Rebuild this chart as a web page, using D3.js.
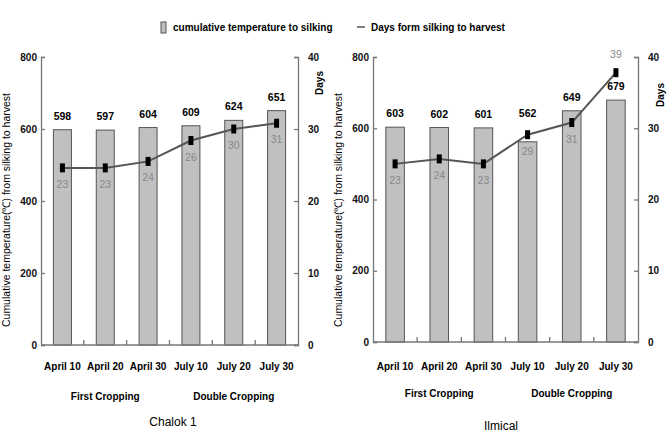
<!DOCTYPE html>
<html lang="en">
  <head>
    <meta charset="utf-8">
    <title>Cumulative temperature and days from silking to harvest</title>
    <script src="https://d3js.org/d3.v7.min.js"></script>
    <style type="text/css">
  body,html{
    margin: 0;
    padding: 0;
    background: #fff;
    font-family: "Liberation Sans", Arial, sans-serif;
  }
  .axis path, .axis line{
    stroke: #777;
    stroke-width: 1.3px;
  }
  .axis text{
    font-size: 10px;
    font-weight: bold;
    fill: #111;
  }
    </style>
  </head>
  <body>
    <script type="text/javascript">

      var w = 668;
      var h = 435;

      // data
      var dates = ["April 10", "April 20", "April 30", "July 10", "July 20", "July 30"];
      var croppings = ["First Cropping", "Double Cropping"];
      var cropOf = [0, 0, 0, 1, 1, 1];

      var chalokTemp = [598, 597, 604, 609, 624, 651];
      var chalokDays = [24.6, 24.6, 25.5, 28.4, 30.0, 30.8];
      var chalokDayLabels = ["23", "23", "24", "26", "30", "31"];

      var ilmicalTemp = [603, 602, 601, 562, 649, 679];
      var ilmicalDays = [25.0, 25.7, 25.0, 29.1, 30.8, 37.8];
      var ilmicalDayLabels = ["23", "24", "23", "29", "31", "39"];

      var tempTicks = [0, 200, 400, 600, 800];
      var dayTicks = [0, 10, 20, 30, 40];

      var svg = d3.select("body")
        .append("svg")
        .attr("width", w)
        .attr("height", h);

      // legend
      var legend = svg.append("g").attr("class", "legend");
      legend.append("rect")
        .attr("x", 161).attr("y", 22)
        .attr("width", 5).attr("height", 11)
        .style("fill", "#c0c0c0")
        .style("stroke", "#555");
      legend.append("text")
        .attr("x", 173).attr("y", 31)
        .style("font-size", "10px").style("font-weight", "bold")
        .text("cumulative temperature to silking");
      legend.append("line")
        .attr("x1", 357).attr("x2", 365)
        .attr("y1", 27).attr("y2", 27)
        .style("stroke", "#555").style("stroke-width", 1.5);
      legend.append("text")
        .attr("x", 371).attr("y", 31)
        .style("font-size", "10px").style("font-weight", "bold")
        .text("Days form silking to harvest");

      var panels = [
        {name: "Chalok 1", temp: chalokTemp, days: chalokDays, labels: chalokDayLabels,
         x0: 41, x1: 298, top: 57, bottom: 345, titleX: 173, titleY: 426, daysX: 323, daysY: 83, yTitleX: 10},
        {name: "Ilmical", temp: ilmicalTemp, days: ilmicalDays, labels: ilmicalDayLabels,
         x0: 373, x1: 638, top: 57, bottom: 342, titleX: 501, titleY: 430, daysX: 664, daysY: 95, yTitleX: 342}
      ];

      panels.forEach(drawPanel);

      function drawPanel(p) {
        var g = svg.append("g");

        var x = d3.scaleBand()
          .domain(dates)
          .range([p.x0, p.x1])
          .paddingInner(0.58)
          .paddingOuter(0.29);

        var yT = d3.scaleLinear().domain([0, 800]).range([p.bottom, p.top]);
        var yD = d3.scaleLinear().domain([0, 40]).range([p.bottom, p.top]);

        // bars
        g.selectAll("rect.bar")
          .data(p.temp)
          .enter()
          .append("rect")
          .attr("class", "bar")
          .attr("x", function(d, i){ return x(dates[i]); })
          .attr("width", x.bandwidth())
          .attr("y", function(d){ return yT(d); })
          .attr("height", function(d){ return p.bottom - yT(d); })
          .style("fill", "#c0c0c0")
          .style("stroke", "#555")
          .style("stroke-width", 1);

        // bar values (pushed above the day marker when it sits near the bar top)
        g.selectAll("text.val")
          .data(p.temp)
          .enter()
          .append("text")
          .attr("class", "val")
          .attr("x", function(d, i){ return x(dates[i]) + x.bandwidth() / 2; })
          .attr("y", function(d, i){
            var top = yT(d) - 10, m = yD(p.days[i]);
            return m > top - 5 ? Math.min(top, m - 18) : top;
          })
          .attr("text-anchor", "middle")
          .style("font-size", "10.5px")
          .style("font-weight", "bold")
          .text(function(d){ return d; });

        // axes
        g.append("g")
          .attr("class", "axis")
          .attr("transform", "translate(" + p.x0 + ",0)")
          .call(d3.axisLeft(yT).tickValues(tempTicks).tickSize(-4).tickPadding(4));

        g.append("g")
          .attr("class", "axis")
          .attr("transform", "translate(" + p.x1 + ",0)")
          .call(d3.axisRight(yD).tickValues(dayTicks).tickSize(-4).tickPadding(10));

        var xa = g.append("g").attr("class", "axis");
        xa.append("line")
          .attr("x1", p.x0).attr("x2", p.x1)
          .attr("y1", p.bottom).attr("y2", p.bottom);
        xa.selectAll("line.tick")
          .data(dates.slice(1))
          .enter()
          .append("line")
          .attr("class", "tick")
          .attr("x1", function(d){ return x(d) - x.step() * x.paddingInner() / 2; })
          .attr("x2", function(d){ return x(d) - x.step() * x.paddingInner() / 2; })
          .attr("y1", p.bottom).attr("y2", p.bottom - 5);

        // date labels
        g.selectAll("text.date")
          .data(dates)
          .enter()
          .append("text")
          .attr("class", "date")
          .attr("x", function(d){ return x(d) + x.bandwidth() / 2; })
          .attr("y", 370)
          .attr("text-anchor", "middle")
          .style("font-size", "10px")
          .style("font-weight", "bold")
          .text(function(d){ return d; });

        // cropping labels
        g.selectAll("text.crop")
          .data(croppings)
          .enter()
          .append("text")
          .attr("class", "crop")
          .attr("x", function(c, ci){
            var xs = dates.filter(function(d, i){ return cropOf[i] === ci; })
              .map(function(d){ return x(d) + x.bandwidth() / 2; });
            return d3.mean(xs);
          })
          .attr("y", p.name === "Chalok 1" ? 400 : 397)
          .attr("text-anchor", "middle")
          .style("font-size", "10px")
          .style("font-weight", "bold")
          .text(function(d){ return d; });

        // days line
        var line = d3.line()
          .x(function(d, i){ return x(dates[i]) + x.bandwidth() / 2; })
          .y(function(d){ return yD(d); });

        g.append("path")
          .datum(p.days)
          .attr("d", line)
          .style("fill", "none")
          .style("stroke", "#555")
          .style("stroke-width", 2);

        g.selectAll("rect.mark")
          .data(p.days)
          .enter()
          .append("rect")
          .attr("class", "mark")
          .attr("x", function(d, i){ return x(dates[i]) + x.bandwidth() / 2 - 2.5; })
          .attr("y", function(d){ return yD(d) - 4.5; })
          .attr("width", 5)
          .attr("height", 9)
          .style("fill", "#000");

        g.selectAll("text.day")
          .data(p.days)
          .enter()
          .append("text")
          .attr("class", "day")
          .attr("x", function(d, i){ return x(dates[i]) + x.bandwidth() / 2; })
          .attr("y", function(d, i){
            // the last Ilmical label sits above its marker
            return d > 35 ? yD(d) - 15 : yD(d) + 20;
          })
          .attr("text-anchor", "middle")
          .style("font-size", "10.5px")
          .style("fill", "#888")
          .text(function(d, i){ return p.labels[i]; });

        // axis titles
        g.append("text")
          .attr("transform", "translate(" + p.yTitleX + ",210) rotate(-90)")
          .attr("text-anchor", "middle")
          .style("font-size", "10.5px")
          .text("Cumulative temperature(\u2103) from silking to harvest");

        g.append("text")
          .attr("transform", "translate(" + p.daysX + "," + p.daysY + ") rotate(-90)")
          .attr("text-anchor", "middle")
          .style("font-size", "10px")
          .style("font-weight", "bold")
          .text("Days");

        g.append("text")
          .attr("x", p.titleX)
          .attr("y", p.titleY)
          .attr("text-anchor", "middle")
          .style("font-size", "12px")
          .text(p.name);
      }

    </script>
  </body>
</html>
